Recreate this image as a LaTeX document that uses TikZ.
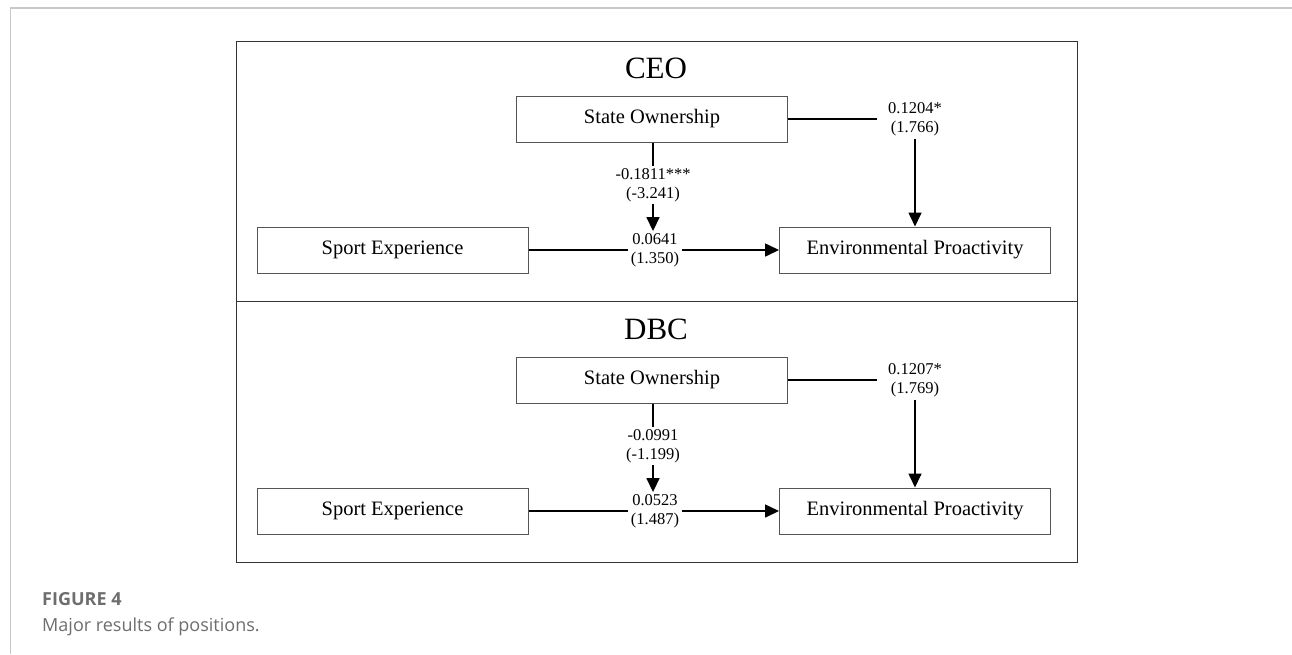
\documentclass[tikz,border=0pt]{standalone}
\usepackage{fontspec}
\setmainfont{Liberation Serif}
\newfontfamily\capfont{Open Sans}
\usetikzlibrary{arrows.meta}
\definecolor{capgray}{HTML}{6E6E6E}
\definecolor{rulegray}{HTML}{C8C8C8}
\definecolor{boxgray}{HTML}{555555}
\begin{document}
\begin{tikzpicture}[x=1pt,y=-1pt,
  vbox/.style={draw=boxgray, line width=1pt, minimum width=271pt, minimum height=46pt, inner sep=0pt, font=\fontsize{20.5}{24}\selectfont},
  conn/.style={line width=1.6pt, draw=black},
  arr/.style={conn, -{Triangle[length=14pt,width=13pt]}},
  lab/.style={font=\fontsize{16.5}{19}\selectfont, align=center, inner xsep=3pt, inner ysep=2pt},
  corner/.style={lab, inner xsep=11pt, inner ysep=3pt},
  ttl/.style={font=\fontsize{31}{35}\selectfont, inner sep=0pt},
  frame/.style={draw=black!80, line width=1pt}]
\useasboundingbox (0,0) rectangle (1292,654);
\fill[white] (0,0) rectangle (1292,654);
% page rules
\draw[rulegray, line width=1.5pt] (10,8) -- (1292,8);
\draw[rulegray, line width=1pt] (10,8) -- (10,654);
% outer frame
\draw[frame] (236,41) rectangle (1077,562);
\draw[frame] (236,301) -- (1077,301);

% ---------- CEO panel ----------
\node[ttl] (t1) at (656,68) {CEO};
\node[vbox] (so1) at (652,119) {State Ownership};
\node[vbox] (se1) at (392.5,250) {Sport Experience};
\node[vbox] (ep1) at (915,250) {Environmental Proactivity};
\node[corner] (la1) at (915,119) {0.1204*\\(1.766)};
\node[lab] (lb1) at (653,185) {-0.1811***\\(-3.241)};
\node[lab] (lc1) at (655,250) {0.0641\\(1.350)};
\draw[conn] (lb1.north |- so1.south) -- (lb1.north);
\draw[arr] (lb1.south) -- (lb1.south |- lc1.north);
\draw[conn] (la1.west -| so1.east) -- (la1.west);
\draw[arr] (la1.south) -- (ep1.north);
\draw[conn] (se1.east) -- (lc1.west);
\draw[arr] (lc1.east) -- (ep1.west);

% ---------- DBC panel ----------
\node[ttl] (t2) at (656,329) {DBC};
\node[vbox] (so2) at (652,380) {State Ownership};
\node[vbox] (se2) at (392.5,511) {Sport Experience};
\node[vbox] (ep2) at (915,511) {Environmental Proactivity};
\node[corner] (la2) at (915,380) {0.1207*\\(1.769)};
\node[lab] (lb2) at (653,446) {-0.0991\\(-1.199)};
\node[lab] (lc2) at (655,511) {0.0523\\(1.487)};
\draw[conn] (lb2.north |- so2.south) -- (lb2.north);
\draw[arr] (lb2.south) -- (lb2.south |- lc2.north);
\draw[conn] (la2.west -| so2.east) -- (la2.west);
\draw[arr] (la2.south) -- (ep2.north);
\draw[conn] (se2.east) -- (lc2.west);
\draw[arr] (lc2.east) -- (ep2.west);

% ---------- caption ----------
\node[anchor=base west, inner sep=0pt, text=capgray, font=\capfont\bfseries\fontsize{18}{21}\selectfont] (fig) at (42,605) {FIGURE 4};
\node[anchor=base west, inner sep=0pt, text=capgray, font=\capfont\fontsize{18}{21}\selectfont] (cap) at (42,631) {Major results of positions.};
\end{tikzpicture}
\end{document}
